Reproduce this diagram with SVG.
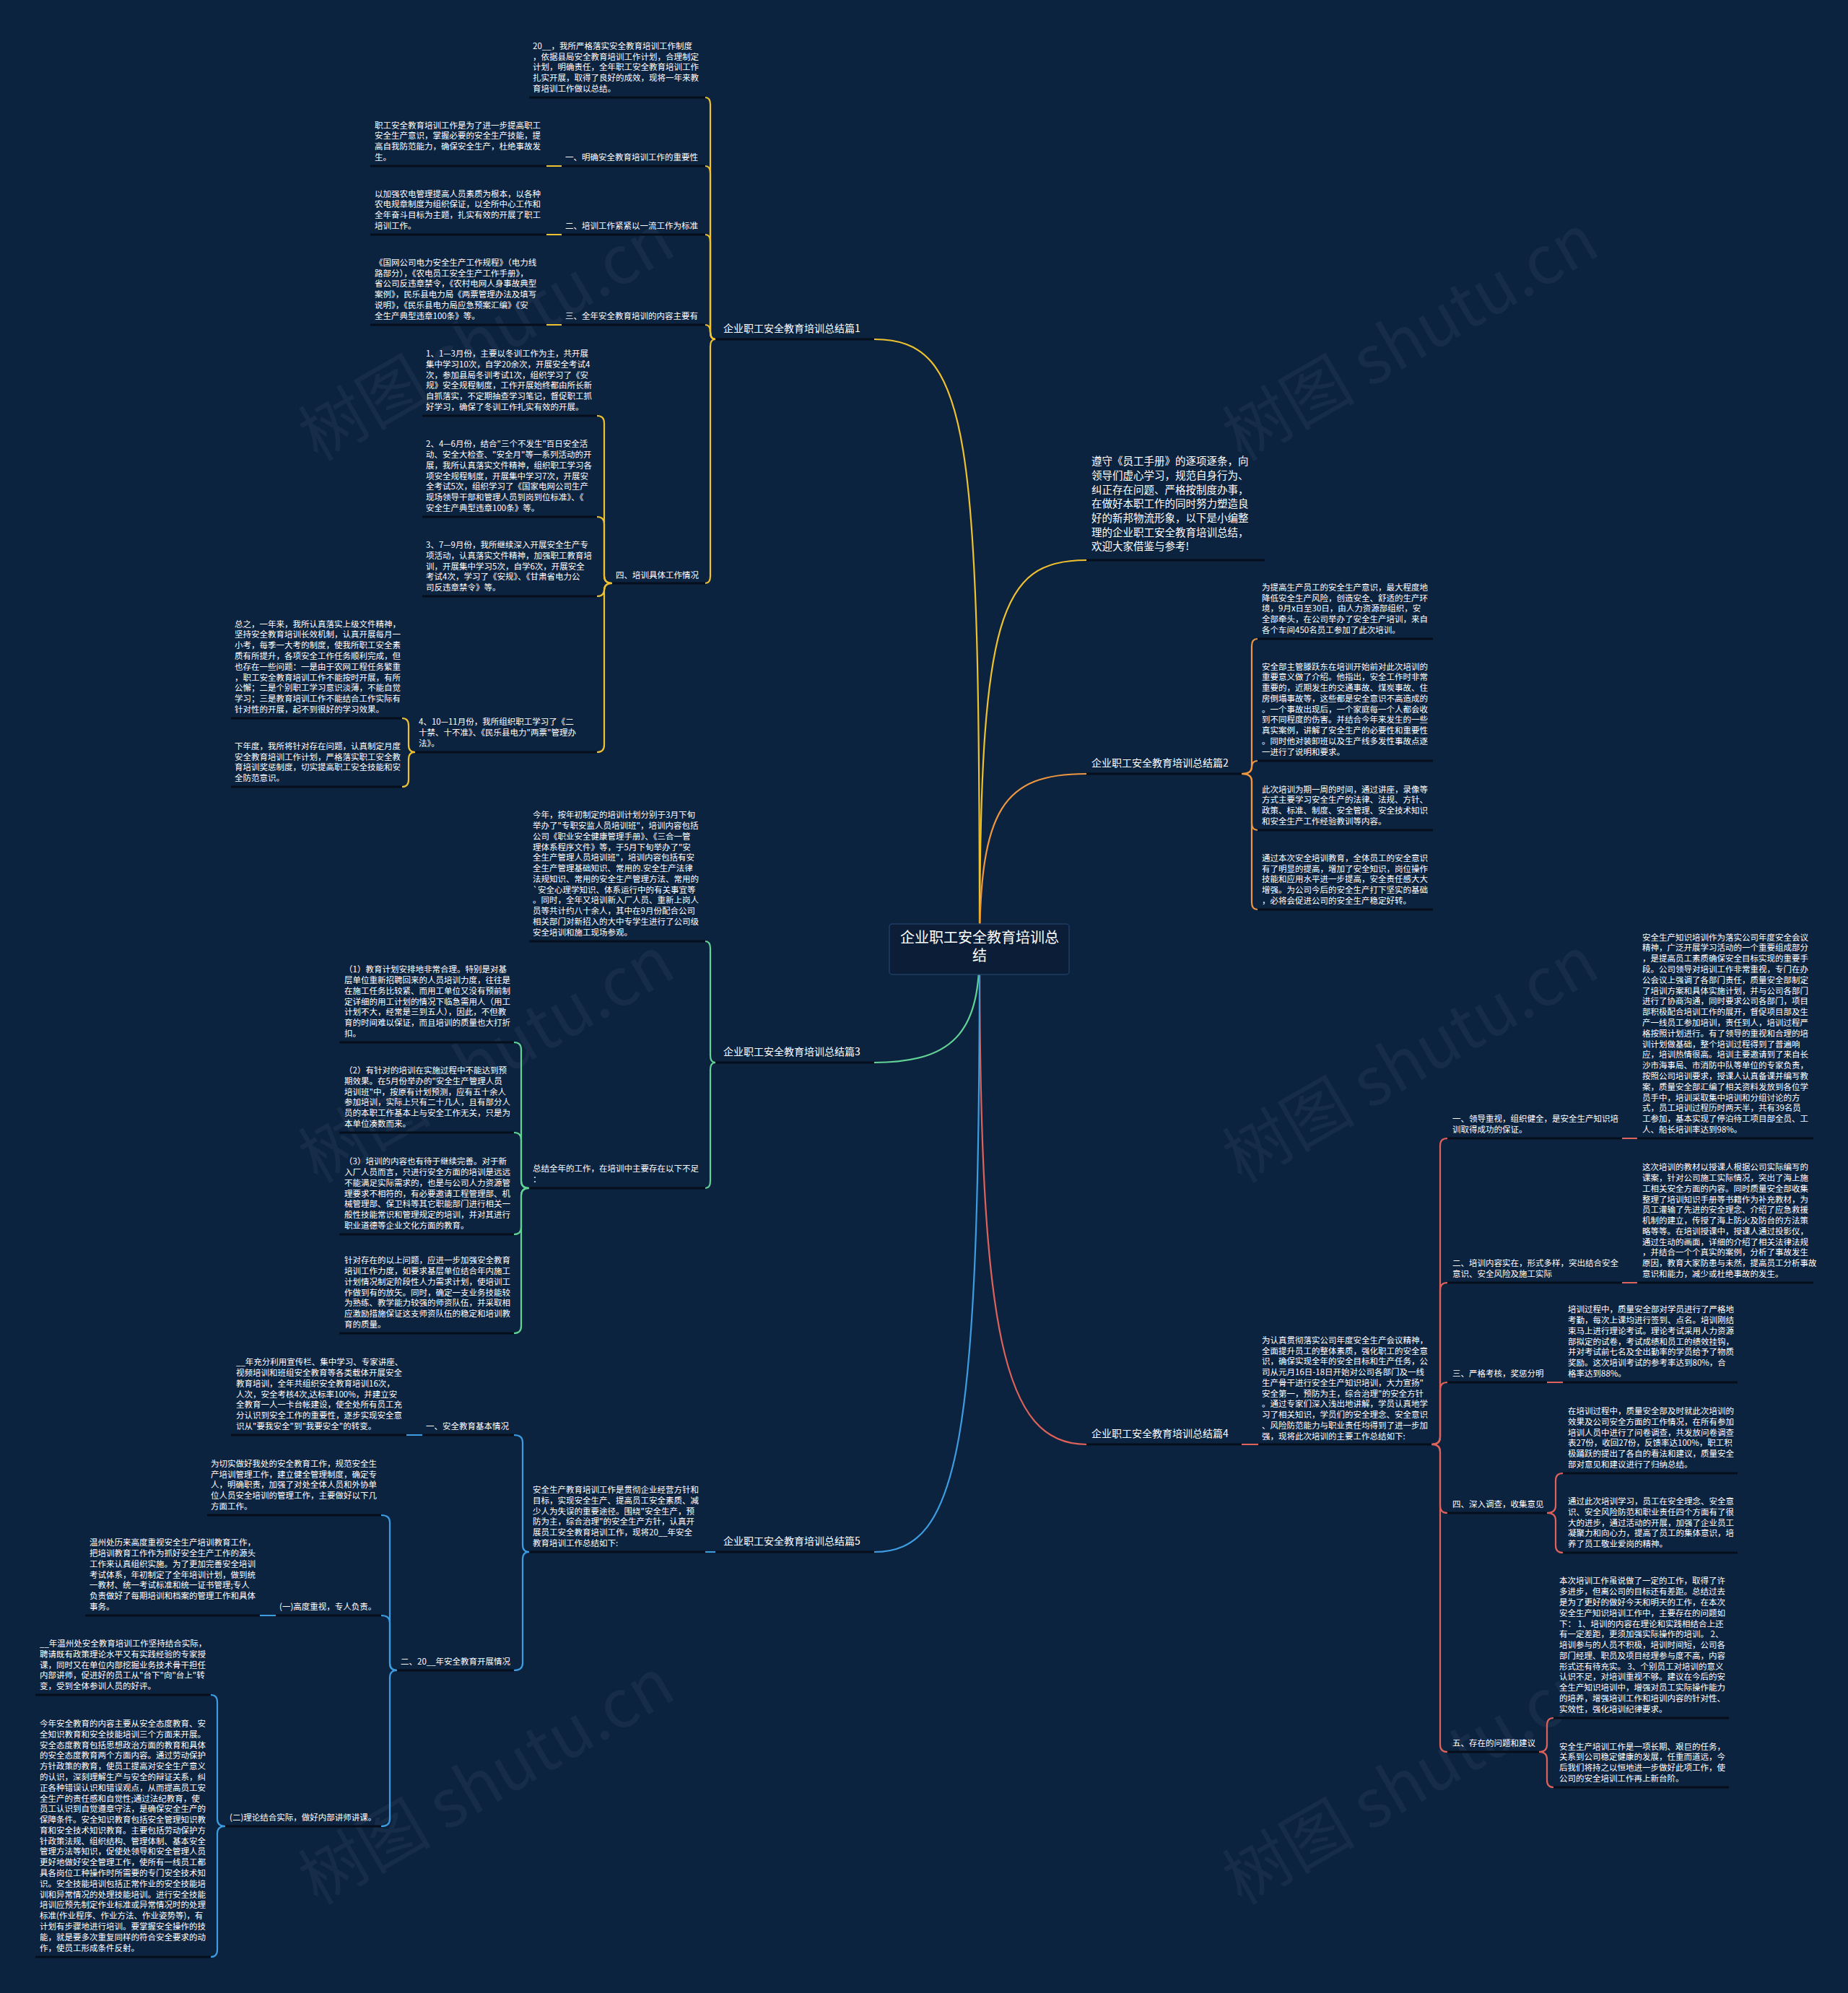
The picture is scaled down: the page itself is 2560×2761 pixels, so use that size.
<svg xmlns="http://www.w3.org/2000/svg" width="2560" height="2761" viewBox="0 0 2560 2761">
<defs>
<style>
.t{font-family:"Noto Sans CJK SC","Noto Sans",sans-serif;font-size:11.5px;fill:#ffffff}
.lb{font-family:"Noto Sans CJK SC","Noto Sans",sans-serif;font-size:14px;fill:#ffffff}
.it{font-family:"Noto Sans CJK SC","Noto Sans",sans-serif;font-size:14.5px;fill:#ffffff}
.rt{font-family:"Noto Sans CJK SC","Noto Sans",sans-serif;font-size:20px;fill:#ffffff}
.wm{font-family:"Noto Sans CJK SC","Noto Sans",sans-serif;font-size:92px;fill:#ffffff;fill-opacity:0.045}
.u{stroke:#050e1a;stroke-width:3;fill:none}
.c{fill:none;stroke-width:2.2;stroke-linecap:round}
.cy{stroke:#efc12f}
.co{stroke:#ef9640}
.cg{stroke:#62d394}
.cr{stroke:#df625a}
.cb{stroke:#3d9de0}
</style>
</defs>
<rect x="0" y="0" width="2560" height="2761" fill="#0c2340"/>
<g id="watermark">
<text class="wm" transform="translate(440,640) rotate(-30)">树图 shutu.cn</text>
<text class="wm" transform="translate(1720,640) rotate(-30)">树图 shutu.cn</text>
<text class="wm" transform="translate(440,1640) rotate(-30)">树图 shutu.cn</text>
<text class="wm" transform="translate(1720,1640) rotate(-30)">树图 shutu.cn</text>
<text class="wm" transform="translate(440,2640) rotate(-30)">树图 shutu.cn</text>
<text class="wm" transform="translate(1720,2640) rotate(-30)">树图 shutu.cn</text>
</g>
<g id="connectors">
<path class="c cy" d="M1357,1315 C1357,600 1345,470 1211,470"/>
<path class="c cy" d="M1357,1315 C1357,850 1385,776 1505,776"/>
<path class="c cy" d="M991,470 Q984,470 984,460 L984,145 Q984,135 977,135"/>
<path class="c cy" d="M991,470 Q984,470 984,460 L984,240 Q984,230 977,230"/>
<path class="c cy" d="M991,470 Q984,470 984,460 L984,335 Q984,325 977,325"/>
<path class="c cy" d="M991,470 Q984,470 984,460 Q984,450 977,450"/>
<path class="c cy" d="M991,470 Q984,470 984,480 L984,798 Q984,808 977,808"/>
<path class="c cy" d="M778,230 H757 M778,325 H757 M778,450 H757"/>
<path class="c cy" d="M848,808 Q837,808 837,798 L837,586 Q837,576 827,576"/>
<path class="c cy" d="M848,808 Q837,808 837,798 L837,726 Q837,716 827,716"/>
<path class="c cy" d="M848,808 Q837,808 837,817 Q837,826 827,826"/>
<path class="c cy" d="M848,808 Q837,808 837,818 L837,1032 Q837,1042 827,1042"/>
<path class="c cy" d="M575,1042 Q566,1042 566,1032 L566,1005 Q566,995 557,995"/>
<path class="c cy" d="M575,1042 Q566,1042 566,1052 L566,1080 Q566,1090 557,1090"/>
<path class="c co" d="M1357,1315 C1357,1120 1390,1072 1505,1072"/>
<path class="c co" d="M1720,1072 Q1734,1072 1734,1062 L1734,895 Q1734,885 1742,885"/>
<path class="c co" d="M1720,1072 Q1734,1072 1734,1063 Q1734,1054 1742,1054"/>
<path class="c co" d="M1720,1072 Q1734,1072 1734,1082 L1734,1140 Q1734,1150 1742,1150"/>
<path class="c co" d="M1720,1072 Q1734,1072 1734,1082 L1734,1250 Q1734,1260 1742,1260"/>
<path class="c cg" d="M1357,1315 C1357,1420 1330,1472 1211,1472"/>
<path class="c cg" d="M991,1472 Q984,1472 984,1462 L984,1314 Q984,1304 977,1304"/>
<path class="c cg" d="M991,1472 Q984,1472 984,1482 L984,1636 Q984,1646 977,1646"/>
<path class="c cg" d="M733,1646 Q722,1646 722,1636 L722,1454 Q722,1444 712,1444"/>
<path class="c cg" d="M733,1646 Q722,1646 722,1636 L722,1579 Q722,1569 712,1569"/>
<path class="c cg" d="M733,1646 Q722,1646 722,1656 L722,1700 Q722,1710 712,1710"/>
<path class="c cg" d="M733,1646 Q722,1646 722,1656 L722,1837 Q722,1847 712,1847"/>
<path class="c cr" d="M1357,1315 C1357,1850 1390,2001 1505,2001"/>
<path class="c cr" d="M1720,2001 H1743"/>
<path class="c cr" d="M1983,2001 Q1995,2001 1995,1991 L1995,1587 Q1995,1577 2005,1577"/>
<path class="c cr" d="M1983,2001 Q1995,2001 1995,1991 L1995,1787 Q1995,1777 2005,1777"/>
<path class="c cr" d="M1983,2001 Q1995,2001 1995,1991 L1995,1925 Q1995,1915 2005,1915"/>
<path class="c cr" d="M1983,2001 Q1995,2001 1995,2011 L1995,2086 Q1995,2096 2005,2096"/>
<path class="c cr" d="M1983,2001 Q1995,2001 1995,2011 L1995,2417 Q1995,2427 2005,2427"/>
<path class="c cr" d="M2247,1577 H2268 M2247,1777 H2268 M2143,1915 H2165"/>
<path class="c cr" d="M2143,2096 Q2155,2096 2155,2086 L2155,2051 Q2155,2041 2165,2041"/>
<path class="c cr" d="M2143,2096 Q2155,2096 2155,2106 L2155,2141 Q2155,2151 2165,2151"/>
<path class="c cr" d="M2132,2427 Q2143,2427 2143,2417 L2143,2390 Q2143,2380 2152,2380"/>
<path class="c cr" d="M2132,2427 Q2143,2427 2143,2437 L2143,2466 Q2143,2476 2152,2476"/>
<path class="c cb" d="M1357,1315 C1357,2000 1330,2150 1211,2150"/>
<path class="c cb" d="M991,2150 H977"/>
<path class="c cb" d="M733,2150 Q724,2150 724,2140 L724,1998 Q724,1988 712,1988"/>
<path class="c cb" d="M733,2150 Q724,2150 724,2160 L724,2304 Q724,2314 712,2314"/>
<path class="c cb" d="M585,1988 H563 M382,2238 H360"/>
<path class="c cb" d="M550,2314 Q540,2314 540,2304 L540,2109 Q540,2099 528,2099"/>
<path class="c cb" d="M550,2314 Q540,2314 540,2304 L540,2248 Q540,2238 528,2238"/>
<path class="c cb" d="M550,2314 Q540,2314 540,2324 L540,2520 Q540,2530 528,2530"/>
<path class="c cb" d="M312,2530 Q301,2530 301,2520 L301,2358 Q301,2348 292,2348"/>
<path class="c cb" d="M312,2530 Q301,2530 301,2540 L301,2701 Q301,2711 292,2711"/>
</g>
<g id="root">
<rect x="1232" y="1280" width="249" height="70" rx="4" fill="#0b1d37" stroke="#1f3d63" stroke-width="1.5"/>
<text class="rt" text-anchor="middle"><tspan x="1357" y="1306">企业职工安全教育培训总</tspan><tspan x="1357" y="1331">结</tspan></text>
</g>
<g id="intro">
<text class="it"><tspan x="1512" y="644">遵守《员工手册》的逐项逐条，向</tspan><tspan x="1512" y="664">领导们虚心学习，规范自身行为、</tspan><tspan x="1512" y="684">纠正存在问题、严格按制度办事，</tspan><tspan x="1512" y="703">在做好本职工作的同时努力塑造良</tspan><tspan x="1512" y="723">好的新邦物流形象，以下是小编整</tspan><tspan x="1512" y="743">理的企业职工安全教育培训总结，</tspan><tspan x="1512" y="762">欢迎大家借鉴与参考!</tspan></text>
<line class="u" x1="1505" y1="776" x2="1752" y2="776"/>
</g>
<g id="b1">
<text class="lb" x="1002" y="460">企业职工安全教育培训总结篇1</text>
<line class="u" x1="991" y1="470" x2="1211" y2="470"/>
</g>
<g id="b1-intro">
<text class="t"><tspan x="738" y="68">20__，我所严格落实安全教育培训工作制度</tspan><tspan x="738" y="83">，依据县局安全教育培训工作计划，合理制定</tspan><tspan x="738" y="97">计划，明确责任，全年职工安全教育培训工作</tspan><tspan x="738" y="112">扎实开展，取得了良好的成效，现将一年来教</tspan><tspan x="738" y="127">育培训工作做以总结。</tspan></text>
<line class="u" x1="733" y1="135" x2="977" y2="135"/>
</g>
<g id="b1-s1">
<text class="t" x="783" y="222">一、明确安全教育培训工作的重要性</text>
<line class="u" x1="778" y1="230" x2="977" y2="230"/>
</g>
<g id="b1-s1-c">
<text class="t"><tspan x="519" y="178">职工安全教育培训工作是为了进一步提高职工</tspan><tspan x="519" y="192">安全生产意识，掌握必要的安全生产技能，提</tspan><tspan x="519" y="207">高自我防范能力，确保安全生产，杜绝事故发</tspan><tspan x="519" y="222">生。</tspan></text>
<line class="u" x1="513" y1="230" x2="757" y2="230"/>
</g>
<g id="b1-s2">
<text class="t" x="783" y="317">二、培训工作紧紧以一流工作为标准</text>
<line class="u" x1="778" y1="325" x2="977" y2="325"/>
</g>
<g id="b1-s2-c">
<text class="t"><tspan x="519" y="273">以加强农电管理提高人员素质为根本，以各种</tspan><tspan x="519" y="287">农电规章制度为组织保证，以全所中心工作和</tspan><tspan x="519" y="302">全年奋斗目标为主题，扎实有效的开展了职工</tspan><tspan x="519" y="317">培训工作。</tspan></text>
<line class="u" x1="513" y1="325" x2="757" y2="325"/>
</g>
<g id="b1-s3">
<text class="t" x="783" y="442">三、全年安全教育培训的内容主要有</text>
<line class="u" x1="778" y1="450" x2="977" y2="450"/>
</g>
<g id="b1-s3-c">
<text class="t"><tspan x="519" y="368">《国网公司电力安全生产工作规程》（电力线</tspan><tspan x="519" y="383">路部分），《农电员工安全生产工作手册》，</tspan><tspan x="519" y="397">省公司反违章禁令，《农村电网人身事故典型</tspan><tspan x="519" y="412">案例》，民乐县电力局《两票管理办法及填写</tspan><tspan x="519" y="427">说明》，《民乐县电力局应急预案汇编》《安</tspan><tspan x="519" y="442">全生产典型违章100条》等。</tspan></text>
<line class="u" x1="513" y1="450" x2="757" y2="450"/>
</g>
<g id="b1-s4">
<text class="t" x="853" y="801">四、培训具体工作情况</text>
<line class="u" x1="848" y1="808" x2="977" y2="808"/>
</g>
<g id="b1-s4-1">
<text class="t"><tspan x="590" y="494">1、1—3月份，主要以冬训工作为主，共开展</tspan><tspan x="590" y="509">集中学习10次，自学20余次，开展安全考试4</tspan><tspan x="590" y="524">次，参加县局冬训考试1次，组织学习了《安</tspan><tspan x="590" y="538">规》安全规程制度，工作开展始终都由所长新</tspan><tspan x="590" y="553">自抓落实，不定期抽查学习笔记，督促职工抓</tspan><tspan x="590" y="568">好学习，确保了冬训工作扎实有效的开展。</tspan></text>
<line class="u" x1="585" y1="576" x2="827" y2="576"/>
</g>
<g id="b1-s4-2">
<text class="t"><tspan x="590" y="619">2、4—6月份，结合"三个不发生"百日安全活</tspan><tspan x="590" y="634">动、安全大检查、"安全月"等一系列活动的开</tspan><tspan x="590" y="649">展，我所认真落实文件精神，组织职工学习各</tspan><tspan x="590" y="664">项安全规程制度，开展集中学习7次，开展安</tspan><tspan x="590" y="678">全考试5次，组织学习了《国家电网公司生产</tspan><tspan x="590" y="693">现场领导干部和管理人员到岗到位标准》、《</tspan><tspan x="590" y="708">安全生产典型违章100条》等。</tspan></text>
<line class="u" x1="585" y1="716" x2="827" y2="716"/>
</g>
<g id="b1-s4-3">
<text class="t"><tspan x="590" y="759">3、7—9月份，我所继续深入开展安全生产专</tspan><tspan x="590" y="774">项活动，认真落实文件精神，加强职工教育培</tspan><tspan x="590" y="789">训，开展集中学习5次，自学6次，开展安全</tspan><tspan x="590" y="803">考试4次，学习了《安规》、《甘肃省电力公</tspan><tspan x="590" y="818">司反违章禁令》等。</tspan></text>
<line class="u" x1="585" y1="826" x2="827" y2="826"/>
</g>
<g id="b1-s4-4">
<text class="t"><tspan x="580" y="1004">4、10—11月份，我所组织职工学习了《二</tspan><tspan x="580" y="1019">十禁、十不准》、《民乐县电力"两票"管理办</tspan><tspan x="580" y="1034">法》。</tspan></text>
<line class="u" x1="575" y1="1042" x2="827" y2="1042"/>
</g>
<g id="b1-s4-4a">
<text class="t"><tspan x="325" y="869">总之，一年来，我所认真落实上级文件精神，</tspan><tspan x="325" y="883">坚持安全教育培训长效机制，认真开展每月一</tspan><tspan x="325" y="898">小考，每季一大考的制度，使我所职工安全素</tspan><tspan x="325" y="913">质有所提升，各项安全工作任务顺利完成，但</tspan><tspan x="325" y="928">也存在一些问题：一是由于农网工程任务繁重</tspan><tspan x="325" y="943">，职工安全教育培训工作不能按时开展，有所</tspan><tspan x="325" y="957">公懈；二是个别职工学习意识淡薄，不能自觉</tspan><tspan x="325" y="972">学习；三是教育培训工作不能结合工作实际有</tspan><tspan x="325" y="987">针对性的开展，起不到很好的学习效果。</tspan></text>
<line class="u" x1="320" y1="995" x2="557" y2="995"/>
</g>
<g id="b1-s4-4b">
<text class="t"><tspan x="325" y="1038">下年度，我所将针对存在问题，认真制定月度</tspan><tspan x="325" y="1053">安全教育培训工作计划，严格落实职工安全教</tspan><tspan x="325" y="1067">育培训奖惩制度，切实提高职工安全技能和安</tspan><tspan x="325" y="1082">全防范意识。</tspan></text>
<line class="u" x1="320" y1="1090" x2="557" y2="1090"/>
</g>
<g id="b2">
<text class="lb" x="1512" y="1062">企业职工安全教育培训总结篇2</text>
<line class="u" x1="1505" y1="1072" x2="1720" y2="1072"/>
</g>
<g id="b2-1">
<text class="t"><tspan x="1748" y="818">为提高生产员工的安全生产意识，最大程度地</tspan><tspan x="1748" y="833">降低安全生产风险，创造安全、舒适的生产环</tspan><tspan x="1748" y="847">境，9月x日至30日，由人力资源部组织，安</tspan><tspan x="1748" y="862">全部牵头，在公司举办了安全生产培训，来自</tspan><tspan x="1748" y="877">各个车间450名员工参加了此次培训。</tspan></text>
<line class="u" x1="1742" y1="885" x2="1985" y2="885"/>
</g>
<g id="b2-2">
<text class="t"><tspan x="1748" y="928">安全部主管滕跃东在培训开始前对此次培训的</tspan><tspan x="1748" y="942">重要意义做了介绍。他指出，安全工作时非常</tspan><tspan x="1748" y="957">重要的，近期发生的交通事故、煤炭事故、住</tspan><tspan x="1748" y="972">房倒塌事故等，这些都是安全意识不高造成的</tspan><tspan x="1748" y="987">。一个事故出现后，一个家庭每一个人都会收</tspan><tspan x="1748" y="1001">到不同程度的伤害。并结合今年来发生的一些</tspan><tspan x="1748" y="1016">真实案例，讲解了安全生产的必要性和重要性</tspan><tspan x="1748" y="1031">。同时他对装卸班以及生产线多发性事故点逐</tspan><tspan x="1748" y="1046">一进行了说明和要求。</tspan></text>
<line class="u" x1="1742" y1="1054" x2="1985" y2="1054"/>
</g>
<g id="b2-3">
<text class="t"><tspan x="1748" y="1098">此次培训为期一周的时间，通过讲座，录像等</tspan><tspan x="1748" y="1112">方式主要学习安全生产的法律、法规、方针、</tspan><tspan x="1748" y="1127">政策、标准、制度、安全管理、安全技术知识</tspan><tspan x="1748" y="1142">和安全生产工作经验教训等内容。</tspan></text>
<line class="u" x1="1742" y1="1150" x2="1985" y2="1150"/>
</g>
<g id="b2-4">
<text class="t"><tspan x="1748" y="1193">通过本次安全培训教育，全体员工的安全意识</tspan><tspan x="1748" y="1208">有了明显的提高，增加了安全知识，岗位操作</tspan><tspan x="1748" y="1222">技能和应用水平进一步提高，安全责任感大大</tspan><tspan x="1748" y="1237">增强。为公司今后的安全生产打下坚实的基础</tspan><tspan x="1748" y="1252">，必将会促进公司的安全生产稳定好转。</tspan></text>
<line class="u" x1="1742" y1="1260" x2="1985" y2="1260"/>
</g>
<g id="b3">
<text class="lb" x="1002" y="1462">企业职工安全教育培训总结篇3</text>
<line class="u" x1="991" y1="1472" x2="1211" y2="1472"/>
</g>
<g id="b3-1">
<text class="t"><tspan x="738" y="1133">今年，按年初制定的培训计划分别于3月下旬</tspan><tspan x="738" y="1148">举办了"专职安监人员培训班"，培训内容包括</tspan><tspan x="738" y="1163">公司《职业安全健康管理手册》、《三合一管</tspan><tspan x="738" y="1178">理体系程序文件》等，于5月下旬举办了"安</tspan><tspan x="738" y="1192">全生产管理人员培训班"，培训内容包括有安</tspan><tspan x="738" y="1207">全生产管理基础知识、常用的.安全生产法律</tspan><tspan x="738" y="1222">法规知识、常用的安全生产管理方法、常用的</tspan><tspan x="738" y="1237">`安全心理学知识、体系运行中的有关事宜等</tspan><tspan x="738" y="1251">。同时，全年又培训新入厂人员、重新上岗人</tspan><tspan x="738" y="1266">员等共计约八十余人，其中在9月份配合公司</tspan><tspan x="738" y="1281">相关部门对新招入的大中专学生进行了公司级</tspan><tspan x="738" y="1296">安全培训和施工现场参观。</tspan></text>
<line class="u" x1="733" y1="1304" x2="977" y2="1304"/>
</g>
<g id="b3-2">
<text class="t"><tspan x="738" y="1623">总结全年的工作，在培训中主要存在以下不足</tspan><tspan x="738" y="1638">：</tspan></text>
<line class="u" x1="733" y1="1646" x2="977" y2="1646"/>
</g>
<g id="b3-2-1">
<text class="t"><tspan x="477" y="1347">（1）教育计划安排地非常合理。特别是对基</tspan><tspan x="477" y="1362">层单位重新招聘回来的人员培训力度，往往是</tspan><tspan x="477" y="1377">在施工任务比较紧、而用工单位又没有预前制</tspan><tspan x="477" y="1392">定详细的用工计划的情况下临急需用人（用工</tspan><tspan x="477" y="1406">计划不大，经常是三到五人），因此，不但教</tspan><tspan x="477" y="1421">育的时间难以保证，而且培训的质量也大打折</tspan><tspan x="477" y="1436">扣。</tspan></text>
<line class="u" x1="470" y1="1444" x2="712" y2="1444"/>
</g>
<g id="b3-2-2">
<text class="t"><tspan x="477" y="1487">（2）有针对的培训在实施过程中不能达到预</tspan><tspan x="477" y="1502">期效果。在5月份举办的"安全生产管理人员</tspan><tspan x="477" y="1517">培训班"中，按原有计划预测，应有五十余人</tspan><tspan x="477" y="1531">参加培训，实际上只有二十几人，且有部分人</tspan><tspan x="477" y="1546">员的本职工作基本上与安全工作无关，只是为</tspan><tspan x="477" y="1561">本单位凑数而来。</tspan></text>
<line class="u" x1="470" y1="1569" x2="712" y2="1569"/>
</g>
<g id="b3-2-3">
<text class="t"><tspan x="477" y="1613">（3）培训的内容也有待于继续完善。对于新</tspan><tspan x="477" y="1628">入厂人员而言，只进行安全方面的培训是远远</tspan><tspan x="477" y="1643">不能满足实际需求的，也是与公司人力资源管</tspan><tspan x="477" y="1658">理要求不相符的，有必要邀请工程管理部、机</tspan><tspan x="477" y="1672">械管理部、保卫科等其它职能部门进行相关一</tspan><tspan x="477" y="1687">般性技能常识和管理规定的培训，并对其进行</tspan><tspan x="477" y="1702">职业道德等企业文化方面的教育。</tspan></text>
<line class="u" x1="470" y1="1710" x2="712" y2="1710"/>
</g>
<g id="b3-2-4">
<text class="t"><tspan x="477" y="1750">针对存在的以上问题，应进一步加强安全教育</tspan><tspan x="477" y="1765">培训工作力度，如要求基层单位结合年内施工</tspan><tspan x="477" y="1780">计划情况制定阶段性人力需求计划，使培训工</tspan><tspan x="477" y="1795">作做到有的放矢。同时，确定一支业务技能较</tspan><tspan x="477" y="1809">为熟练、教学能力较强的师资队伍，并采取相</tspan><tspan x="477" y="1824">应激励措施保证这支师资队伍的稳定和培训教</tspan><tspan x="477" y="1839">育的质量。</tspan></text>
<line class="u" x1="470" y1="1847" x2="712" y2="1847"/>
</g>
<g id="b4">
<text class="lb" x="1512" y="1991">企业职工安全教育培训总结篇4</text>
<line class="u" x1="1505" y1="2001" x2="1720" y2="2001"/>
</g>
<g id="b4-intro">
<text class="t"><tspan x="1748" y="1861">为认真贯彻落实公司年度安全生产会议精神，</tspan><tspan x="1748" y="1876">全面提升员工的整体素质，强化职工的安全意</tspan><tspan x="1748" y="1890">识，确保实现全年的安全目标和生产任务，公</tspan><tspan x="1748" y="1905">司从元月16日-18日开始对公司各部门及一线</tspan><tspan x="1748" y="1920">生产骨干进行安全生产知识培训，大力宣扬"</tspan><tspan x="1748" y="1935">安全第一，预防为主，综合治理"的安全方针</tspan><tspan x="1748" y="1949">。通过专家们深入浅出地讲解，学员认真地学</tspan><tspan x="1748" y="1964">习了相关知识，学员们的安全理念、安全意识</tspan><tspan x="1748" y="1979">、风险防范能力与职业责任均得到了进一步加</tspan><tspan x="1748" y="1994">强，现将此次培训的主要工作总结如下:</tspan></text>
<line class="u" x1="1743" y1="2001" x2="1983" y2="2001"/>
</g>
<g id="b4-s1">
<text class="t"><tspan x="2012" y="1554">一、领导重视，组织健全，是安全生产知识培</tspan><tspan x="2012" y="1569">训取得成功的保证。</tspan></text>
<line class="u" x1="2005" y1="1577" x2="2247" y2="1577"/>
</g>
<g id="b4-s1-c">
<text class="t"><tspan x="2275" y="1303">安全生产知识培训作为落实公司年度安全会议</tspan><tspan x="2275" y="1317">精神，广泛开展学习活动的一个重要组成部分</tspan><tspan x="2275" y="1332">，是提高员工素质确保安全目标实现的重要手</tspan><tspan x="2275" y="1347">段。公司领导对培训工作非常重视，专门在办</tspan><tspan x="2275" y="1362">公会议上强调了各部门责任，质量安全部制定</tspan><tspan x="2275" y="1377">了培训方案和具体实施计划，并与公司各部门</tspan><tspan x="2275" y="1391">进行了协商沟通，同时要求公司各部门，项目</tspan><tspan x="2275" y="1406">部积极配合培训工作的展开，督促项目部及生</tspan><tspan x="2275" y="1421">产一线员工参加培训，责任到人，培训过程严</tspan><tspan x="2275" y="1436">格按照计划进行。有了领导的重视和合理的培</tspan><tspan x="2275" y="1451">训计划做基础，整个培训过程得到了普遍响</tspan><tspan x="2275" y="1465">应，培训热情很高。培训主要邀请到了来自长</tspan><tspan x="2275" y="1480">沙市海事局、市消防中队等单位的专家负责，</tspan><tspan x="2275" y="1495">按照公司培训要求，授课人认真备课并编写教</tspan><tspan x="2275" y="1510">案，质量安全部汇编了相关资料发放到各位学</tspan><tspan x="2275" y="1525">员手中，培训采取集中培训和分组讨论的方</tspan><tspan x="2275" y="1539">式，员工培训过程历时两天半，共有39名员</tspan><tspan x="2275" y="1554">工参加，基本实现了停泊待工项目部全员、工</tspan><tspan x="2275" y="1569">人、船长培训率达到98%。</tspan></text>
<line class="u" x1="2268" y1="1577" x2="2512" y2="1577"/>
</g>
<g id="b4-s2">
<text class="t"><tspan x="2012" y="1754">二、培训内容实在，形式多样，突出结合安全</tspan><tspan x="2012" y="1769">意识、安全风险及施工实际</tspan></text>
<line class="u" x1="2005" y1="1777" x2="2247" y2="1777"/>
</g>
<g id="b4-s2-c">
<text class="t"><tspan x="2275" y="1621">这次培训的教材以授课人根据公司实际编写的</tspan><tspan x="2275" y="1636">课案，针对公司施工实际情况，突出了海上施</tspan><tspan x="2275" y="1651">工相关安全方面的内容。同时质量安全部收集</tspan><tspan x="2275" y="1666">整理了培训知识手册等书籍作为补充教材，为</tspan><tspan x="2275" y="1680">员工灌输了先进的安全理念、介绍了应急救援</tspan><tspan x="2275" y="1695">机制的建立，传授了海上防火及防台的方法策</tspan><tspan x="2275" y="1710">略等等。在培训授课中，授课人通过投影仪，</tspan><tspan x="2275" y="1725">通过生动的画面，详细的介绍了相关法律法规</tspan><tspan x="2275" y="1739">，并结合一个个真实的案例，分析了事故发生</tspan><tspan x="2275" y="1754">原因，教育大家防患与未然，提高员工分析事故</tspan><tspan x="2275" y="1769">意识和能力，减少或杜绝事故的发生。</tspan></text>
<line class="u" x1="2268" y1="1777" x2="2512" y2="1777"/>
</g>
<g id="b4-s3">
<text class="t" x="2012" y="1907">三、严格考核，奖惩分明</text>
<line class="u" x1="2005" y1="1915" x2="2143" y2="1915"/>
</g>
<g id="b4-s3-c">
<text class="t"><tspan x="2172" y="1818">培训过程中，质量安全部对学员进行了严格地</tspan><tspan x="2172" y="1833">考勤，每次上课均进行签到、点名。培训刚结</tspan><tspan x="2172" y="1848">束马上进行理论考试。理论考试采用人力资源</tspan><tspan x="2172" y="1863">部拟定的试卷，考试成绩和员工的绩效挂钩，</tspan><tspan x="2172" y="1877">并对考试前七名及全出勤率的学员给予了物质</tspan><tspan x="2172" y="1892">奖励。这次培训考试的参考率达到80%，合</tspan><tspan x="2172" y="1907">格率达到88%。</tspan></text>
<line class="u" x1="2165" y1="1915" x2="2407" y2="1915"/>
</g>
<g id="b4-s4">
<text class="t" x="2012" y="2088">四、深入调查，收集意见</text>
<line class="u" x1="2005" y1="2096" x2="2143" y2="2096"/>
</g>
<g id="b4-s4-c1">
<text class="t"><tspan x="2172" y="1959">在培训过程中，质量安全部及时就此次培训的</tspan><tspan x="2172" y="1974">效果及公司安全方面的工作情况，在所有参加</tspan><tspan x="2172" y="1989">培训人员中进行了问卷调查，共发放问卷调查</tspan><tspan x="2172" y="2003">表27份，收回27份，反馈率达100%，职工积</tspan><tspan x="2172" y="2018">极踊跃的提出了各自的看法和建议，质量安全</tspan><tspan x="2172" y="2033">部对意见和建议进行了归纳总结。</tspan></text>
<line class="u" x1="2165" y1="2041" x2="2407" y2="2041"/>
</g>
<g id="b4-s4-c2">
<text class="t"><tspan x="2172" y="2084">通过此次培训学习，员工在安全理念、安全意</tspan><tspan x="2172" y="2099">识、安全风险防范和职业责任四个方面有了很</tspan><tspan x="2172" y="2114">大的进步，通过活动的开展，加强了企业员工</tspan><tspan x="2172" y="2128">凝聚力和向心力，提高了员工的集体意识，培</tspan><tspan x="2172" y="2143">养了员工敬业爱岗的精神。</tspan></text>
<line class="u" x1="2165" y1="2151" x2="2407" y2="2151"/>
</g>
<g id="b4-s5">
<text class="t" x="2012" y="2419">五、存在的问题和建议</text>
<line class="u" x1="2005" y1="2427" x2="2132" y2="2427"/>
</g>
<g id="b4-s5-c1">
<text class="t"><tspan x="2160" y="2194">本次培训工作虽说做了一定的工作，取得了许</tspan><tspan x="2160" y="2209">多进步，但离公司的目标还有差距。总结过去</tspan><tspan x="2160" y="2224">是为了更好的做好今天和明天的工作，在本次</tspan><tspan x="2160" y="2239">安全生产知识培训工作中，主要存在的问题如</tspan><tspan x="2160" y="2254">下： 1、培训的内容在理论和实践相结合上还</tspan><tspan x="2160" y="2268">有一定差距，更须加强实际操作的培训。 2、</tspan><tspan x="2160" y="2283">培训参与的人员不积极，培训时间短，公司各</tspan><tspan x="2160" y="2298">部门经理、职员及项目经理参与度不高，内容</tspan><tspan x="2160" y="2313">形式还有待充实。 3、个别员工对培训的意义</tspan><tspan x="2160" y="2327">认识不足，对培训重视不够。建议在今后的安</tspan><tspan x="2160" y="2342">全生产知识培训中，增强对员工实际操作能力</tspan><tspan x="2160" y="2357">的培养，增强培训工作和培训内容的针对性、</tspan><tspan x="2160" y="2372">实效性，强化培训纪律要求。</tspan></text>
<line class="u" x1="2152" y1="2380" x2="2395" y2="2380"/>
</g>
<g id="b4-s5-c2">
<text class="t"><tspan x="2160" y="2424">安全生产培训工作是一项长期、艰巨的任务，</tspan><tspan x="2160" y="2438">关系到公司稳定健康的发展，任重而道远，今</tspan><tspan x="2160" y="2453">后我们将持之以恒地进一步做好此项工作，使</tspan><tspan x="2160" y="2468">公司的安全培训工作再上新台阶。</tspan></text>
<line class="u" x1="2152" y1="2476" x2="2395" y2="2476"/>
</g>
<g id="b5">
<text class="lb" x="1002" y="2140">企业职工安全教育培训总结篇5</text>
<line class="u" x1="991" y1="2150" x2="1211" y2="2150"/>
</g>
<g id="b5-intro">
<text class="t"><tspan x="738" y="2068">安全生产教育培训工作是贯彻企业经营方针和</tspan><tspan x="738" y="2083">目标，实现安全生产、提高员工安全素质、减</tspan><tspan x="738" y="2098">少人为失误的重要途径。围绕"安全生产，预</tspan><tspan x="738" y="2112">防为主，综合治理"的安全生产方针，认真开</tspan><tspan x="738" y="2127">展员工安全教育培训工作，现将20__年安全</tspan><tspan x="738" y="2142">教育培训工作总结如下:</tspan></text>
<line class="u" x1="733" y1="2150" x2="977" y2="2150"/>
</g>
<g id="b5-s1">
<text class="t" x="590" y="1980">一、安全教育基本情况</text>
<line class="u" x1="585" y1="1988" x2="712" y2="1988"/>
</g>
<g id="b5-s1-c">
<text class="t"><tspan x="327" y="1891">__年充分利用宣传栏、集中学习、专家讲座、</tspan><tspan x="327" y="1906">视频培训和班组安全教育等各类载体开展安全</tspan><tspan x="327" y="1921">教育培训，全年共组织安全教育培训16次，</tspan><tspan x="327" y="1936">人次，安全考核4次,达标率100%，并建立安</tspan><tspan x="327" y="1950">全教育一人一卡台帐建设，使全处所有员工充</tspan><tspan x="327" y="1965">分认识到安全工作的重要性，逐步实现安全意</tspan><tspan x="327" y="1980">识从"要我安全"到"我要安全"的转变。</tspan></text>
<line class="u" x1="320" y1="1988" x2="563" y2="1988"/>
</g>
<g id="b5-s2">
<text class="t" x="555" y="2306">二、20__年安全教育开展情况</text>
<line class="u" x1="550" y1="2314" x2="712" y2="2314"/>
</g>
<g id="b5-s2-c1">
<text class="t"><tspan x="292" y="2032">为切实做好我处的安全教育工作，规范安全生</tspan><tspan x="292" y="2047">产培训管理工作，建立健全管理制度，确定专</tspan><tspan x="292" y="2061">人，明确职责，加强了对处全体人员和外协单</tspan><tspan x="292" y="2076">位人员安全培训的管理工作，主要做好以下几</tspan><tspan x="292" y="2091">方面工作。</tspan></text>
<line class="u" x1="287" y1="2099" x2="528" y2="2099"/>
</g>
<g id="b5-s2-c2">
<text class="t" x="387" y="2230">(一)高度重视，专人负责。</text>
<line class="u" x1="382" y1="2238" x2="528" y2="2238"/>
</g>
<g id="b5-s2-c2-c">
<text class="t"><tspan x="124" y="2141">温州处历来高度重视安全生产培训教育工作，</tspan><tspan x="124" y="2156">把培训教育工作作为抓好安全生产工作的源头</tspan><tspan x="124" y="2171">工作来认真组织实施。为了更加完善安全培训</tspan><tspan x="124" y="2186">考试体系，年初制定了全年培训计划，做到统</tspan><tspan x="124" y="2200">一教材、统一考试标准和统一证书管理;专人</tspan><tspan x="124" y="2215">负责做好了每期培训和档案的管理工作和具体</tspan><tspan x="124" y="2230">事务。</tspan></text>
<line class="u" x1="118" y1="2238" x2="360" y2="2238"/>
</g>
<g id="b5-s2-c3">
<text class="t" x="318" y="2522">(二)理论结合实际，做好内部讲师讲课。</text>
<line class="u" x1="312" y1="2530" x2="528" y2="2530"/>
</g>
<g id="b5-s2-c3-a">
<text class="t"><tspan x="55" y="2281">__年温州处安全教育培训工作坚持结合实际，</tspan><tspan x="55" y="2296">聘请既有政策理论水平又有实践经验的专家授</tspan><tspan x="55" y="2311">课，同时又在单位内部挖掘业务技术骨干担任</tspan><tspan x="55" y="2325">内部讲师，促进好的员工从"台下"向"台上"转</tspan><tspan x="55" y="2340">变，受到全体参训人员的好评。</tspan></text>
<line class="u" x1="49" y1="2348" x2="292" y2="2348"/>
</g>
<g id="b5-s2-c3-b">
<text class="t"><tspan x="55" y="2392">今年安全教育的内容主要从安全态度教育、安</tspan><tspan x="55" y="2407">全知识教育和安全技能培训三个方面来开展。</tspan><tspan x="55" y="2422">安全态度教育包括思想政治方面的教育和具体</tspan><tspan x="55" y="2436">的安全态度教育两个方面内容。通过劳动保护</tspan><tspan x="55" y="2451">方针政策的教育，使员工提高对安全生产意义</tspan><tspan x="55" y="2466">的认识，深刻理解生产与安全的辩证关系，纠</tspan><tspan x="55" y="2481">正各种错误认识和错误观点，从而提高员工安</tspan><tspan x="55" y="2496">全生产的责任感和自觉性;通过法纪教育，使</tspan><tspan x="55" y="2510">员工认识到自觉遵章守法，是确保安全生产的</tspan><tspan x="55" y="2525">保障条件。安全知识教育包括安全管理知识教</tspan><tspan x="55" y="2540">育和安全技术知识教育。主要包括劳动保护方</tspan><tspan x="55" y="2555">针政策法规、组织结构、管理体制、基本安全</tspan><tspan x="55" y="2569">管理方法等知识，促使处领导和安全管理人员</tspan><tspan x="55" y="2584">更好地做好安全管理工作，使所有一线员工都</tspan><tspan x="55" y="2599">具各岗位工种操作时所需要的专门安全技术知</tspan><tspan x="55" y="2614">识。安全技能培训包括正常作业的安全技能培</tspan><tspan x="55" y="2629">训和异常情况的处理技能培训。进行安全技能</tspan><tspan x="55" y="2643">培训应预先制定作业标准或异常情况时的处理</tspan><tspan x="55" y="2658">标准(作业程序、作业方法、作业姿势等)，有</tspan><tspan x="55" y="2673">计划有步骤地进行培训。要掌握安全操作的技</tspan><tspan x="55" y="2688">能，就是要多次重复同样的符合安全要求的动</tspan><tspan x="55" y="2703">作，使员工形成条件反射。</tspan></text>
<line class="u" x1="49" y1="2711" x2="292" y2="2711"/>
</g>
</svg>
